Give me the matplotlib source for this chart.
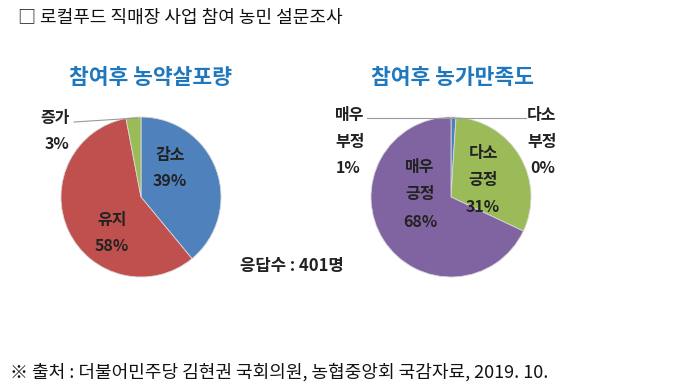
import matplotlib
matplotlib.use("Agg")
import matplotlib.pyplot as plt

plt.rcParams['font.family'] = ['Noto Sans CJK KR', 'DejaVu Sans']

# 참여후 농약살포량
use_labels = ['감소', '유지', '증가']
use_values = [39, 58, 3]
use_colors = ['#4F81BD', '#C0504D', '#9BBB59']

# 참여후 농가만족도
sat_labels = ['다소 부정', '매우 부정', '다소 긍정', '매우 긍정']
sat_values = [0, 1, 31, 68]
sat_colors = ['#C0504D', '#4F81BD', '#9BBB59', '#8064A2']

title = '□ 로컬푸드 직매장 사업 참여 농민 설문조사'
source = '※ 출처 : 더불어민주당 김현권 국회의원, 농협중앙회 국감자료, 2019. 10.'
n_resp = '응답수 : 401명'

W, H = 680, 390


def Y(py):
    # pixel row (top=0) -> data y
    return H - py


fig = plt.figure(figsize=(6.8, 3.9), dpi=100)
ax = fig.add_axes([0, 0, 1, 1])

wedge = dict(edgecolor='#d8d8d8', linewidth=0.6)
ax.pie(use_values, colors=use_colors, startangle=90, counterclock=False,
       center=(141, Y(197)), radius=80, wedgeprops=wedge, frame=True)
ax.pie(sat_values, colors=sat_colors, startangle=90, counterclock=False,
       center=(451, Y(197)), radius=80, wedgeprops=wedge, frame=True)
ax.set_xlim(0, W)
ax.set_ylim(0, H)
ax.set_aspect('equal')
ax.axis('off')

lab = dict(fontsize=11.5, fontweight='bold', color='#222222', ha='center', va='center')
blue_t = dict(fontsize=15.5, fontweight='bold', color='#1F78BE', ha='center', va='center')

ax.text(18, Y(18), title, fontsize=13, color='#111111', ha='left', va='center')
ax.text(150, Y(78), '참여후 농약살포량', **blue_t)
ax.text(452, Y(78), '참여후 농가만족도', **blue_t)

# left pie labels
ax.text(170, Y(155), use_labels[0], **lab)
ax.text(170, Y(181), f'{use_values[0]}%', **lab)
ax.text(112, Y(220), use_labels[1], **lab)
ax.text(112, Y(246), f'{use_values[1]}%', **lab)
ax.text(55, Y(118), use_labels[2], **lab)
ax.text(57, Y(144), f'{use_values[2]}%', **lab)
ax.plot([74, 137], [Y(122), Y(118)], color='#999999', lw=0.8)

# right pie labels
ax.text(350, Y(115), '매우', **lab)
ax.text(350, Y(142), '부정', **lab)
ax.text(348, Y(168), f'{sat_values[1]}%', **lab)
ax.plot([367, 452], [Y(118), Y(118)], color='#999999', lw=0.8)
ax.text(542, Y(115), '다소', **lab)
ax.text(542, Y(142), '부정', **lab)
ax.text(543, Y(168), f'{sat_values[0]}%', **lab)
ax.plot([453, 526], [Y(118), Y(118)], color='#999999', lw=0.8)

ax.text(420, Y(167), '매우', **lab)
ax.text(420, Y(194), '긍정', **lab)
ax.text(420, Y(222), f'{sat_values[3]}%', **lab)
ax.text(483, Y(153), '다소', **lab)
ax.text(483, Y(180), '긍정', **lab)
ax.text(483, Y(207), f'{sat_values[2]}%', **lab)

ax.text(240, Y(266), n_resp, fontsize=12, fontweight='bold', color='#222222',
        ha='left', va='center')

ax.text(10, Y(372), source, fontsize=13, color='#111111', ha='left', va='center')

fig.savefig('out.png', dpi=100, facecolor='white')
